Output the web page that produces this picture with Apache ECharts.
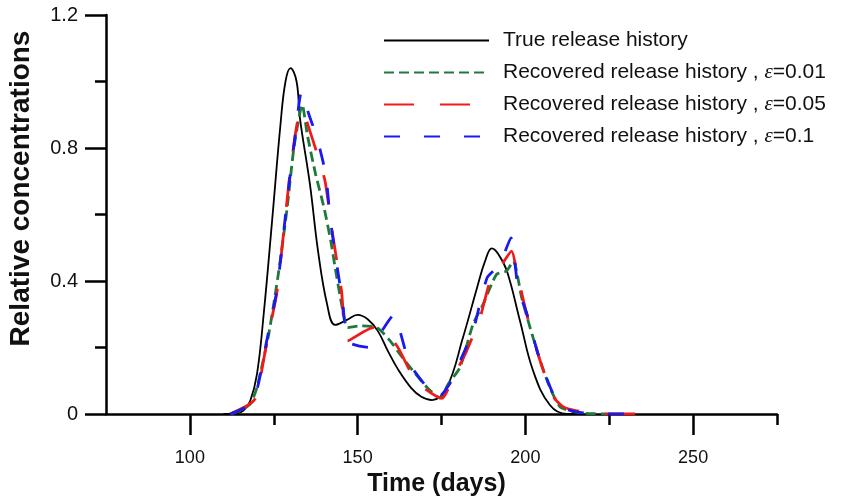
<!DOCTYPE html>
<html><head><meta charset="utf-8">
<script src="https://cdn.jsdelivr.net/npm/echarts@6/dist/echarts.min.js"></script>
<style>html,body{margin:0;padding:0;background:#fff}#c{width:841px;height:499px}</style>
</head><body><div id="c"></div>
<script>
// ---- data ----
const seriesNames = ['True release history',
  'Recovered release history , ε=0.01',
  'Recovered release history , ε=0.05',
  'Recovered release history , ε=0.1'];

const xTicksMajor = [100, 150, 200, 250];
const xTicksMinor = [125, 175, 225, 275];
const yTicksMajor = [0, 0.4, 0.8, 1.2];
const yTicksMinor = [0.2, 0.6, 1.0];

const trueX = [110, 114, 116, 118, 120, 122, 124.5, 127, 128.5, 130, 131.8, 132.8, 135.8, 138.2, 140.9, 143.3, 146.8, 150, 153, 156, 159, 162, 166, 169, 172.2, 176.6, 181.4, 185.6, 188, 190, 192, 194.5, 198.4, 202.3, 207.3, 212.4, 216];
const trueY = [0, 0.002, 0.01, 0.04, 0.12, 0.3, 0.58, 0.87, 1.0, 1.04, 1.0, 0.89, 0.69, 0.49, 0.33, 0.268, 0.283, 0.298, 0.285, 0.25, 0.19, 0.135, 0.078, 0.052, 0.042, 0.08, 0.23, 0.38, 0.46, 0.498, 0.48, 0.43, 0.28, 0.13, 0.027, 0, 0];

const e01X = [112, 115, 118, 120, 123.5, 126.5, 129, 131, 133.5, 135, 137.5, 140, 142, 143.3, 145.6, 147, 151, 155.8, 159.7, 162.6, 166.5, 170.7, 174.5, 177, 180.5, 184.4, 187.4, 191.4, 194.4, 196.4, 198.9, 201.4, 204.4, 207.3, 210.3, 214, 218, 224];
const e01Y = [0, 0.01, 0.03, 0.08, 0.24, 0.43, 0.62, 0.8, 0.93, 0.84, 0.72, 0.62, 0.52, 0.44, 0.31, 0.26, 0.265, 0.26, 0.22, 0.18, 0.13, 0.08, 0.048, 0.09, 0.14, 0.27, 0.33, 0.42, 0.43, 0.46, 0.35, 0.26, 0.16, 0.08, 0.022, 0.008, 0.002, 0];

const e05X = [112, 117, 119.4, 120.5, 123, 126, 129.8, 131.9, 133.4, 135.8, 138, 140.3, 142.7, 145.2, 147, 154.6, 160.6, 162.6, 165.6, 169.5, 175.1, 178.5, 182.5, 186.5, 189.5, 192.4, 195.9, 197.4, 200.4, 204.4, 208.3, 211.2, 215, 219.3, 225, 238];
const e05Y = [0, 0.025, 0.045, 0.08, 0.22, 0.37, 0.72, 0.87, 0.915, 0.85, 0.78, 0.7, 0.53, 0.37, 0.22, 0.26, 0.22, 0.19, 0.13, 0.08, 0.047, 0.11, 0.19, 0.29, 0.4, 0.44, 0.49, 0.43, 0.3, 0.16, 0.052, 0.022, 0.01, 0.005, 0, 0];

const e1X = [112, 115, 117, 119.9, 122.9, 125.9, 129.3, 131.3, 133.3, 135.5, 137.9, 140.5, 141.8, 143.8, 145.6, 147.2, 153.7, 157.2, 161, 162.6, 165.6, 170.7, 174, 178, 181, 184.4, 188.6, 192.4, 195.7, 197.8, 200.5, 204.4, 209.4, 212, 216, 222, 233];
const e1Y = [0, 0.012, 0.025, 0.07, 0.22, 0.37, 0.67, 0.83, 0.97, 0.9, 0.83, 0.72, 0.59, 0.45, 0.33, 0.217, 0.2, 0.25, 0.3, 0.25, 0.15, 0.08, 0.05, 0.1, 0.17, 0.25, 0.41, 0.45, 0.53, 0.38, 0.3, 0.16, 0.035, 0.015, 0.005, 0, 0];

// ---- chart ----
const pairs = (xs, ys) => xs.map((x, i) => [x, ys[i]]);
const FONT = "'Liberation Sans', Arial, sans-serif";
const chart = echarts.init(document.getElementById('c'), null, {renderer: 'canvas'});

const axisCommon = {
  type: 'value', min: 75, max: 275, gridIndex: 0, position: 'bottom',
  splitLine: {show: false}
};
const yCommon = {
  type: 'value', min: 0, max: 1.2, gridIndex: 0, position: 'left',
  splitLine: {show: false}
};

chart.setOption({
  animation: false,
  backgroundColor: '#fff',
  grid: {left: 106, right: 64, top: 15, bottom: 85, containLabel: false, outerBoundsMode: 'none'},
  legend: {
    orient: 'vertical', left: 378, top: 25,
    itemWidth: 105, itemHeight: 14, itemGap: 11,
    data: seriesNames,
    itemStyle: {opacity: 0, borderWidth: 0},
    formatter: n => n.replace('ε', '{e|ε}'),
    textStyle: {
      fontFamily: FONT, fontSize: 21, color: '#111', padding: [0, 0, 0, 9],
      rich: {e: {fontFamily: "'Liberation Serif', 'Times New Roman', serif", fontStyle: 'italic', fontSize: 21, color: '#111'}}
    }
  },
  xAxis: [
    Object.assign({}, axisCommon, {
      name: 'Time (days)', nameLocation: 'middle', nameGap: 51,
      nameTextStyle: {fontFamily: FONT, fontWeight: 'bold', fontSize: 25, color: '#111', padding: [0, 10, 0, 0]},
      axisLine: {show: true, lineStyle: {color: '#000', width: 2.5}},
      axisTick: {show: true, customValues: xTicksMajor, length: 21, lineStyle: {color: '#000', width: 2.5}},
      axisLabel: {show: true, customValues: xTicksMajor, margin: 35, fontFamily: FONT, fontSize: 18, color: '#111'}
    }),
    Object.assign({}, axisCommon, {
      axisLine: {show: false},
      axisTick: {show: true, customValues: xTicksMinor, length: 11, lineStyle: {color: '#000', width: 2.5}},
      axisLabel: {show: false}
    })
  ],
  yAxis: [
    Object.assign({}, yCommon, {
      name: 'Relative concentrations', nameLocation: 'middle', nameGap: 71,
      nameTextStyle: {fontFamily: FONT, fontWeight: 'bold', fontSize: 28, color: '#111', padding: [0, 0, 0, 52]},
      axisLine: {show: true, lineStyle: {color: '#000', width: 2.5}},
      axisTick: {show: true, customValues: yTicksMajor, length: 21, lineStyle: {color: '#000', width: 2.5}},
      axisLabel: {show: true, customValues: yTicksMajor, margin: 28, fontFamily: FONT, fontSize: 20, color: '#111'}
    }),
    Object.assign({}, yCommon, {
      axisLine: {show: false},
      axisTick: {show: true, customValues: yTicksMinor, length: 11, lineStyle: {color: '#000', width: 2.5}},
      axisLabel: {show: false}
    })
  ],
  series: [
    {name: seriesNames[0], type: 'line', data: pairs(trueX, trueY), smooth: 0.4, symbol: 'none',
     lineStyle: {color: '#000', width: 1.8}, itemStyle: {color: '#000'}, z: 2},
    {name: seriesNames[1], type: 'line', data: pairs(e01X, e01Y), smooth: 0.2, symbol: 'none',
     lineStyle: {color: '#1e7a3c', width: 2.8, type: [10, 5]}, itemStyle: {color: '#1e7a3c'}, z: 3},
    {name: seriesNames[2], type: 'line', data: pairs(e05X, e05Y), smooth: 0.2, symbol: 'none',
     lineStyle: {color: '#f01a1a', width: 2.8, type: [30, 26]}, itemStyle: {color: '#f01a1a'}, z: 4},
    {name: seriesNames[3], type: 'line', data: pairs(e1X, e1Y), smooth: 0.2, symbol: 'none',
     lineStyle: {color: '#1a1af0', width: 2.8, type: [16, 24]}, itemStyle: {color: '#1a1af0'}, z: 5}
  ]
});
</script></body></html>
